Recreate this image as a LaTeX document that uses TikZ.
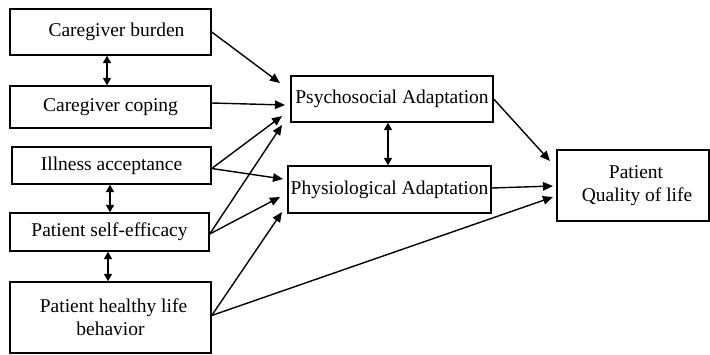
\documentclass[tikz,border=0pt]{standalone}
\usepackage{fontspec}
\setmainfont{Liberation Serif}
\usetikzlibrary{arrows.meta}
\begin{document}
\begin{tikzpicture}[x=1pt,y=-1pt,
  box/.style={draw, line width=1.4pt, rectangle, inner sep=0pt, align=center,
    font=\rmfamily\fontsize{19.5}{23}\selectfont},
  conn/.style={line width=1.4pt, -{Triangle[length=10pt,width=8.5pt]}},
  dbl/.style={line width=1.6pt, {Triangle[length=7.5pt,width=8pt]}-{Triangle[length=7.5pt,width=8pt]}}]
\useasboundingbox (0,0) rectangle (710,354);
\node[box, minimum width=201pt, minimum height=46pt] (cb) at (110.5,32) {\hspace*{12pt}Caregiver burden};
\node[box, minimum width=201pt, minimum height=42pt] (cc) at (110.5,107) {Caregiver coping};
\node[box, minimum width=199pt, minimum height=37pt] (ia) at (111.5,165.5) {Illness acceptance};
\node[box, minimum width=199pt, minimum height=38pt] (se) at (109.5,232) {Patient self-efficacy};
\node[box, minimum width=201pt, minimum height=71pt] (hl) at (110.5,317.5) {\hspace*{6pt}Patient healthy life\\behavior};
\node[box, minimum width=202pt, minimum height=46pt] (ps) at (392,99) {Psychosocial Adaptation};
\node[box, minimum width=203pt, minimum height=47pt] (ph) at (389.5,189.5) {Physiological Adaptation};
\node[box, minimum width=152pt, minimum height=71pt] (ql) at (633,185.5) {\hspace*{6pt}Patient\\\hspace*{8pt}Quality of life};

\coordinate (t1) at (280,83);
\coordinate (t2) at (285,105);
\coordinate (t3) at (282,116);
\coordinate (t4) at (283,179);
\coordinate (t5) at (282,125);
\coordinate (t6) at (280,197);
\coordinate (t7) at (282,212);
\coordinate (t8) at (550,161);
\coordinate (t9) at (553,186);
\coordinate (t10) at (553,197);

\draw[conn] (cb.east) -- (t1);
\draw[conn] ([yshift=4pt]cc.east) -- (t2);
\draw[conn] ([yshift=-3pt]ia.east) -- (t3);
\draw[conn] ([yshift=-3pt]ia.east) -- (t4);
\draw[conn] ([yshift=-2pt]se.east) -- (t5);
\draw[conn] ([yshift=-2pt]se.east) -- (t6);
\draw[conn] ([yshift=2pt]hl.east) -- (t7);
\draw[conn] ([yshift=2pt]hl.east) -- (t10);
\draw[conn] (ps.east) -- (t8);
\draw[conn] ([yshift=1.5pt]ph.east) -- (t9);

\draw[dbl] ([xshift=-3.5pt]cb.south) -- ([xshift=-3.5pt]cc.north);
\draw[dbl] ([xshift=-1.5pt]ia.south) -- ([xshift=-1.5pt]ia.south |- se.north);
\draw[dbl] ([xshift=-1.5pt]se.south) -- ([xshift=-1.5pt]se.south |- hl.north);
\draw[dbl] ([xshift=-4pt]ps.south) -- ([xshift=-4pt]ps.south |- ph.north);
\end{tikzpicture}
\end{document}
